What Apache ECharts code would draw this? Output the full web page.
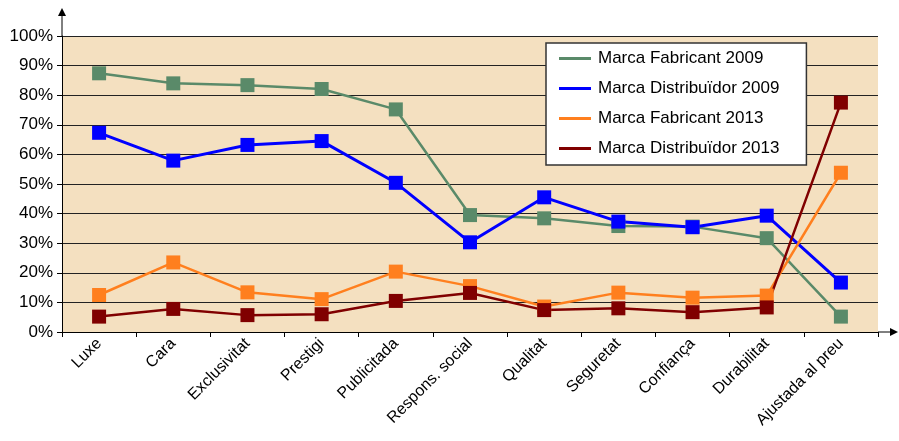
<!DOCTYPE html>
<html>
<head>
<meta charset="utf-8">
<script src="https://cdn.jsdelivr.net/npm/echarts@6/dist/echarts.min.js"></script>
<style>
  html, body { margin: 0; padding: 0; background: #fff; }
  #chart { width: 899px; height: 441px; }
</style>
</head>
<body>
<div id="chart"></div>
<script>
// categories i valors (%) llegits del gràfic
var categories = ['Luxe', 'Cara', 'Exclusivitat', 'Prestigi', 'Publicitada', 'Respons. social',
                  'Qualitat', 'Seguretat', 'Confiança', 'Durabilitat', 'Ajustada al preu'];
var fabricant2009 = [87.4, 84.0, 83.4, 82.1, 75.2, 39.5, 38.4, 35.8, 35.6, 31.7, 5.2];
var distribuidor2009 = [67.3, 57.9, 63.2, 64.5, 50.4, 30.3, 45.5, 37.3, 35.4, 39.3, 16.7];
var fabricant2013 = [12.5, 23.5, 13.4, 11.1, 20.4, 15.5, 8.6, 13.3, 11.6, 12.3, 53.8];
var distribuidor2013 = [5.2, 7.8, 5.7, 6.0, 10.5, 13.2, 7.4, 8.0, 6.7, 8.3, 77.5];
var yTicks = [0, 10, 20, 30, 40, 50, 60, 70, 80, 90, 100];

var font = '"Liberation Sans", Arial, sans-serif';

function lineSeries(name, data, color, width) {
    return {
        name: name,
        type: 'line',
        data: data,
        symbol: 'rect',
        symbolSize: 14,
        lineStyle: { color: color, width: width },
        itemStyle: { color: color },
        z: 3
    };
}

var myChart = echarts.init(document.getElementById('chart'));

var option = {
    animation: false,
    textStyle: { fontFamily: font },
    grid: {
        left: 62, right: 21, top: 36, bottom: 109,
        show: true,
        backgroundColor: '#F4E0C0',
        borderWidth: 0
    },
    legend: {
        orient: 'vertical',
        left: 546, top: 43,
        padding: [7, 27, 8, 13],
        itemGap: 13,
        itemWidth: 32,
        itemHeight: 3,
        icon: 'rect',
        backgroundColor: '#fff',
        borderColor: '#333',
        borderWidth: 1.5,
        borderRadius: 0,
        textStyle: { fontSize: 17, color: '#000', fontFamily: font, padding: [0, 0, 0, 2] },
        data: ['Marca Fabricant 2009', 'Marca Distribuïdor 2009', 'Marca Fabricant 2013', 'Marca Distribuïdor 2013']
    },
    xAxis: {
        type: 'category',
        data: categories,
        boundaryGap: true,
        axisLine: { lineStyle: { color: '#000', width: 1 } },
        axisTick: { show: true, length: 5, lineStyle: { color: '#000' } },
        axisLabel: { rotate: 45, fontSize: 16, color: '#000', fontFamily: font, margin: 9, interval: 0 },
        splitLine: { show: false }
    },
    yAxis: {
        type: 'value',
        min: 0, max: 100, interval: 10,
        axisLine: { show: true, lineStyle: { color: '#000', width: 1 } },
        axisTick: { show: true, length: 5, lineStyle: { color: '#000' } },
        axisLabel: {
            fontSize: 17, color: '#000', fontFamily: font, margin: 9,
            formatter: function (v) { return yTicks.indexOf(v) >= 0 ? v + '%' : ''; }
        },
        splitLine: { show: true, lineStyle: { color: '#222', width: 1 } }
    },
    graphic: [
        // prolongació dels eixos amb fletxa
        { type: 'line', shape: { x1: 62, y1: 36, x2: 62, y2: 12 }, style: { stroke: '#000', lineWidth: 1 } },
        { type: 'polygon', shape: { points: [[62, 8], [58, 16], [66, 16]] }, style: { fill: '#000' } },
        { type: 'line', shape: { x1: 878, y1: 332, x2: 892, y2: 332 }, style: { stroke: '#000', lineWidth: 1 } },
        { type: 'polygon', shape: { points: [[898, 332], [890, 328], [890, 336]] }, style: { fill: '#000' } }
    ],
    series: [
        lineSeries('Marca Fabricant 2009', fabricant2009, '#5A8A69', 2.5),
        lineSeries('Marca Distribuïdor 2009', distribuidor2009, '#0000FF', 3),
        lineSeries('Marca Fabricant 2013', fabricant2013, '#FF7F1E', 2.5),
        lineSeries('Marca Distribuïdor 2013', distribuidor2013, '#800000', 2.5)
    ]
};

myChart.setOption(option);
</script>
</body>
</html>
